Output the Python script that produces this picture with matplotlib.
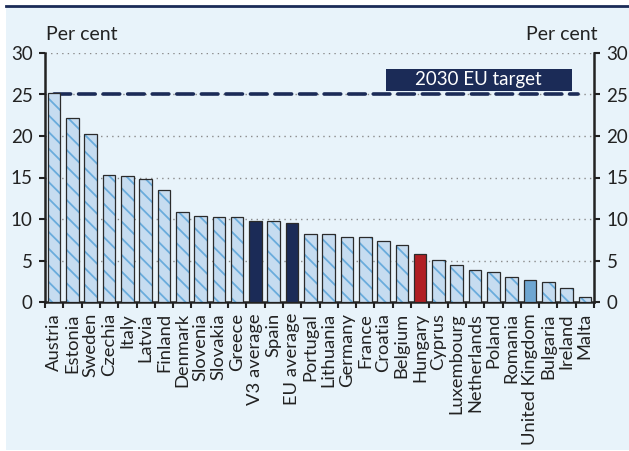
import matplotlib
matplotlib.use("Agg")
import matplotlib.pyplot as plt
from matplotlib.patches import Rectangle
from matplotlib.lines import Line2D
import numpy as np

plt.rcParams['font.family'] = ['Lato', 'DejaVu Sans']

categories = ["Austria", "Estonia", "Sweden", "Czechia", "Italy", "Latvia", "Finland",
              "Denmark", "Slovenia", "Slovakia", "Greece", "V3 average", "Spain",
              "EU average", "Portugal", "Lithuania", "Germany", "France", "Croatia",
              "Belgium", "Hungary", "Cyprus", "Luxembourg", "Netherlands", "Poland",
              "Romania", "United Kingdom", "Bulgaria", "Ireland", "Malta"]
values = [25.2, 22.2, 20.3, 15.3, 15.2, 14.8, 13.5, 10.9, 10.4, 10.3, 10.3, 9.7, 9.7,
          9.5, 8.2, 8.2, 7.8, 7.8, 7.3, 6.9, 5.8, 5.1, 4.4, 3.8, 3.6, 3.0, 2.7, 2.4,
          1.7, 0.6]
target = 25
target_label = "2030 EU target"
yticks = [0, 5, 10, 15, 20, 25, 30]

NAVY = "#1b2b57"
HATCH = "#6aacdc"
FACE = "#c6dcf0"
BG = "#e8f3fa"
EDGE = "#2b2b2b"
special = {"V3 average": NAVY, "EU average": NAVY, "Hungary": "#b01f24",
           "United Kingdom": "#6ea6d1"}

plt.rcParams['hatch.linewidth'] = 1.3

fig = plt.figure(figsize=(6.29, 4.51), dpi=100)
fig.patch.set_facecolor("white")
fig.patches.append(Rectangle((6/629, 1/451), 1 - 6/629, 1 - 8/451,
                             transform=fig.transFigure, facecolor=BG,
                             edgecolor="none", zorder=-10))
fig.lines.append(Line2D([6/629, 1], [1 - 6/451, 1 - 6/451], transform=fig.transFigure,
                        color=NAVY, lw=2.0, zorder=-9))

ax = fig.add_axes([45/629, 1 - 302/451, (594 - 45)/629, (302 - 53)/451])
ax.set_facecolor("none")
x = np.arange(len(categories))
n = len(categories)
w = 0.69

for i, (c, v) in enumerate(zip(categories, values)):
    if c in special:
        ax.bar(i, v, width=w, color=special[c], edgecolor=EDGE, linewidth=0.9, zorder=3)
    else:
        ax.bar(i, v, width=w, color=FACE, edgecolor=HATCH, linewidth=0, hatch="\\\\",
               zorder=3)
        ax.bar(i, v, width=w, fill=False, edgecolor=EDGE, linewidth=0.9, zorder=4)

ax.plot([0, n - 1.35], [target, target], color=NAVY, lw=2.6,
        linestyle=(0, (4.6, 2.2)), dash_capstyle="round", zorder=2)

ax.set_xlim(-0.5, n - 0.5)
ax.set_ylim(0, 30)
ax.set_yticks(yticks)
for g in yticks[1:]:
    ax.axhline(g, color="#8a8a8a", lw=1.0, linestyle=(0, (1, 3)), zorder=1)

ax.set_xticks(x)
ax.set_xticklabels(categories, rotation=90, fontsize=13.2, color="#222222")
ax.set_xticks(np.arange(-0.5, n, 1.0), minor=True)
ax.tick_params(axis="x", which="major", length=0, pad=8)
ax.tick_params(axis="x", which="minor", length=4, width=1.5, color="#222222")
ax.tick_params(axis="y", which="major", length=4, width=1.5, color="#222222",
               labelsize=13.5, labelcolor="#222222", right=True, labelright=True,
               pad=5)

for s in ["left", "right", "bottom"]:
    ax.spines[s].set_linewidth(1.8)
    ax.spines[s].set_color("#222222")
ax.spines["top"].set_visible(False)

fig.text(46/629, 1 - 35/451, "Per cent", ha="left", va="center", fontsize=14,
         color="#222222")
fig.text(598/629, 1 - 35/451, "Per cent", ha="right", va="center", fontsize=14,
         color="#222222")

ax.add_patch(Rectangle((0.621, 0.847), 0.339, 0.089, transform=ax.transAxes,
                       facecolor=NAVY, edgecolor="none", zorder=5))
ax.text(0.79, 0.892, target_label, transform=ax.transAxes, ha="center", va="center",
        color="white", fontsize=13.5, zorder=6)

fig.savefig("out.png", dpi=100)
